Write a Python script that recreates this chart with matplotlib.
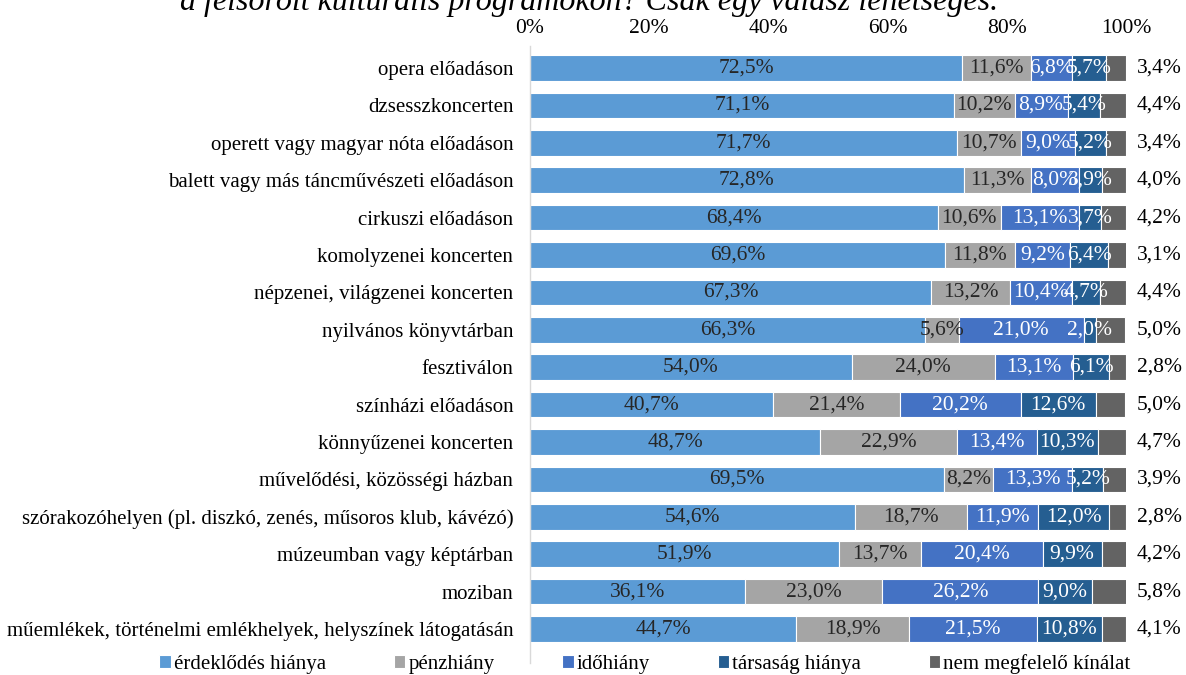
import matplotlib
matplotlib.use("Agg")
import matplotlib.pyplot as plt
import numpy as np

categories = [
    "opera előadáson",
    "dzsesszkoncerten",
    "operett vagy magyar nóta előadáson",
    "balett vagy más táncművészeti előadáson",
    "cirkuszi előadáson",
    "komolyzenei koncerten",
    "népzenei, világzenei koncerten",
    "nyilvános könyvtárban",
    "fesztiválon",
    "színházi előadáson",
    "könnyűzenei koncerten",
    "művelődési, közösségi házban",
    "szórakozóhelyen (pl. diszkó, zenés, műsoros klub, kávézó)",
    "múzeumban vagy képtárban",
    "moziban",
    "műemlékek, történelmi emlékhelyek, helyszínek látogatásán",
]
series_names = ["érdeklődés hiánya", "pénzhiány", "időhiány", "társaság hiánya", "nem megfelelő kínálat"]
erdeklodes = [72.5, 71.1, 71.7, 72.8, 68.4, 69.6, 67.3, 66.3, 54.0, 40.7, 48.7, 69.5, 54.6, 51.9, 36.1, 44.7]
penzhiany = [11.6, 10.2, 10.7, 11.3, 10.6, 11.8, 13.2, 5.6, 24.0, 21.4, 22.9, 8.2, 18.7, 13.7, 23.0, 18.9]
idohiany = [6.8, 8.9, 9.0, 8.0, 13.1, 9.2, 10.4, 21.0, 13.1, 20.2, 13.4, 13.3, 11.9, 20.4, 26.2, 21.5]
tarsasag = [5.7, 5.4, 5.2, 3.9, 3.7, 6.4, 4.7, 2.0, 6.1, 12.6, 10.3, 5.2, 12.0, 9.9, 9.0, 10.8]
kinalat = [3.4, 4.4, 3.4, 4.0, 4.2, 3.1, 4.4, 5.0, 2.8, 5.0, 4.7, 3.9, 2.8, 4.2, 5.8, 4.1]
xticks = [0, 20, 40, 60, 80, 100]
title = "a felsorolt kulturális programokon? Csak egy válasz lehetséges."

colors = ["#5B9BD5", "#A5A5A5", "#4472C4", "#255E91", "#636363"]
text_colors = ["#262626", "#262626", "white", "white", "black"]

plt.rcParams['font.family'] = ['Liberation Serif', 'DejaVu Serif']

fig = plt.figure(figsize=(11.86, 6.75), dpi=100)
ax = fig.add_axes([530/1186, 1-647.7/675, (1126-530)/1186, (647.7-49.3)/675])

data = [erdeklodes, penzhiany, idohiany, tarsasag, kinalat]
y = np.arange(len(categories))
left = np.zeros(len(categories))
for i, (vals, name, c) in enumerate(zip(data, series_names, colors)):
    vals = np.array(vals)
    ax.barh(y, vals, left=left, height=0.68, color=c, edgecolor="white", linewidth=0.8, label=name)
    for yi, (l, v) in enumerate(zip(left, vals)):
        lab = f"{v:.1f}%".replace(".", ",")
        if i < 4:
            ax.text(l + v/2, yi, lab, ha="center", va="center", fontsize=15.5, color=text_colors[i])
        else:
            ax.text(101.8, yi, lab, ha="left", va="center", fontsize=15.5, color="black", clip_on=False)
    left = left + vals

ax.set_ylim(len(categories) - 0.5, -0.5)
ax.set_xlim(0, 100)
ax.set_yticks(y)
ax.set_yticklabels(categories, fontsize=15)
ax.set_xticks(xticks)
ax.set_xticklabels([f"{t}%" for t in xticks], fontsize=15.5)
ax.xaxis.tick_top()
ax.tick_params(axis="both", length=0)
ax.tick_params(axis="y", pad=12)
ax.tick_params(axis="x", pad=8)
for s in ["top", "right", "bottom"]:
    ax.spines[s].set_visible(False)
ax.spines["left"].set_color("#D9D9D9")
ax.spines["left"].set_bounds(-0.6, len(categories) - 0.1)
ax.spines["left"].set_linewidth(1)

fig.text(0.497, 0.997, title, ha="center", va="center", fontsize=23, style="italic")

leg = fig.legend(loc="center", bbox_to_anchor=(645/1186, 1-664/675), ncol=5, frameon=False,
                 fontsize=15, handlelength=0.55, handleheight=0.55, handletextpad=0.15,
                 columnspacing=3.25, borderaxespad=0)

fig.savefig("out.png", dpi=100)
